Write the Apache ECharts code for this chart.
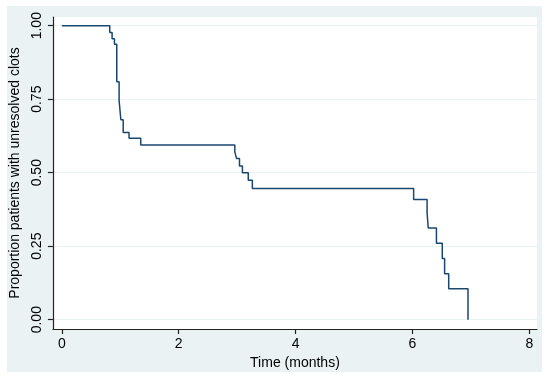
<!DOCTYPE html>
<html>
<head>
<meta charset="utf-8">
<script src="https://cdn.jsdelivr.net/npm/echarts@6/dist/echarts.min.js"></script>
<style>
html,body{margin:0;padding:0;background:#fff;}
#chart{width:550px;height:380px;}
</style>
</head>
<body>
<div id="chart"></div>
<script>
// Kaplan-Meier step data: event time (months) and new proportion after the step
const times = [0, 0.82, 0.86, 0.90, 0.94, 0.98, 1.01, 1.05, 1.15, 1.35, 2.96, 2.99, 3.04, 3.09, 3.19, 3.26, 6.02, 6.25, 6.27, 6.41, 6.51, 6.55, 6.62, 6.95];
const surv  = [1.00, 0.977, 0.956, 0.937, 0.809, 0.745, 0.680, 0.637, 0.617, 0.594, 0.571, 0.548, 0.523, 0.500, 0.474, 0.446, 0.409, 0.364, 0.312, 0.260, 0.208, 0.156, 0.105, 0.0];
const xTicks = [0, 2, 4, 6, 8];
const yTicks = [0, 0.25, 0.5, 0.75, 1];
const xTitle = 'Time (months)';
const yTitle = 'Proportion patients with unresolved clots';

const data = times.map((t, i) => [t, surv[i]]);
const chart = echarts.init(document.getElementById('chart'), null, {renderer: 'canvas'});
const font = 'Liberation Sans, Arial, sans-serif';
chart.setOption({
  backgroundColor: 'transparent',
  animation: false,
  graphic: [{
    type: 'rect', z: -10, silent: true,
    shape: {x: 7, y: 6, width: 535, height: 366},
    style: {fill: '#eaf2f3'}
  }],
  grid: {left: 49, right: 13, top: 17, bottom: 51, show: true, backgroundColor: '#ffffff', borderWidth: 0},
  xAxis: {
    type: 'value', min: -0.153, max: 8.131,
    name: xTitle, nameLocation: 'middle', nameGap: 21,
    nameTextStyle: {fontFamily: font, fontSize: 14, color: '#000'},
    axisLine: {show: true, onZero: false, lineStyle: {color: '#222', width: 1.2}},
    axisTick: {show: true, length: 5, customValues: xTicks, lineStyle: {color: '#222', width: 1.2}},
    axisLabel: {customValues: xTicks, margin: 8, fontFamily: font, fontSize: 14, color: '#000'},
    splitLine: {show: false}
  },
  yAxis: {
    type: 'value', min: -0.0316, max: 1.0296,
    name: yTitle, nameLocation: 'middle', nameGap: 23,
    nameTextStyle: {fontFamily: font, fontSize: 14, color: '#000'},
    axisLine: {show: true, onZero: false, lineStyle: {color: '#222', width: 1.2}},
    axisTick: {show: true, length: 5, customValues: yTicks, lineStyle: {color: '#222', width: 1.2}},
    axisLabel: {customValues: yTicks, margin: 9, rotate: 90, fontFamily: font, fontSize: 14, color: '#000',
      formatter: v => v.toFixed(2)},
    splitLine: {show: true, lineStyle: {color: '#eaf2f3', width: 1}}
  },
  series: [{
    type: 'line', step: 'end', data: data, symbol: 'none',
    lineStyle: {color: '#1a476f', width: 1.5},
    silent: true
  }]
});
</script>
</body>
</html>
